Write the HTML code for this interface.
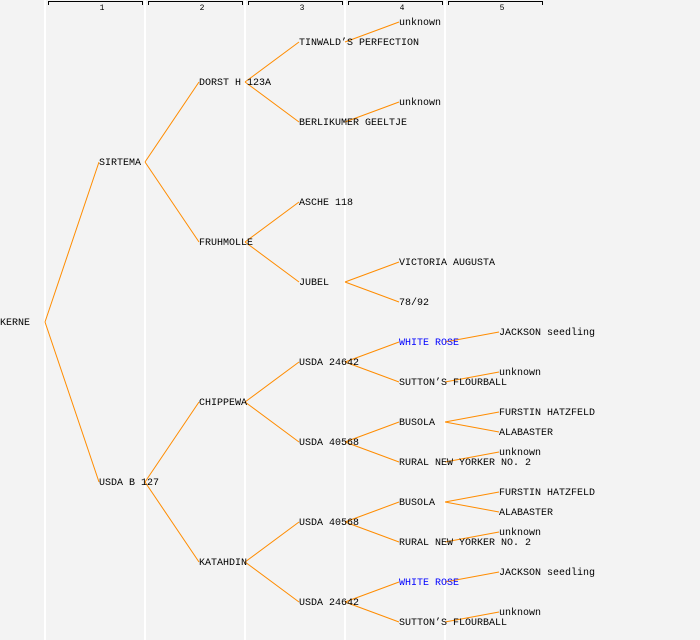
<!DOCTYPE html>
<html><head><meta charset="utf-8"><style>
html,body{margin:0;padding:0;background:#f3f3f3;}
svg{display:block}
text{font-family:"Liberation Mono","DejaVu Sans Mono",monospace;font-size:10px;fill:#000}
</style></head><body>
<svg width="700" height="640" xmlns="http://www.w3.org/2000/svg">
<rect width="700" height="640" fill="#f3f3f3"/>
<g stroke="#fff" stroke-width="2">
<line x1="45" y1="0" x2="45" y2="640"/><line x1="145" y1="0" x2="145" y2="640"/>
<line x1="245" y1="0" x2="245" y2="640"/><line x1="345" y1="0" x2="345" y2="640"/>
<line x1="445" y1="0" x2="445" y2="640"/>
</g>
<g stroke="#000" stroke-width="1" fill="none">
<path d="M48.5 5V1.5H142.5V5"/><path d="M148.5 5V1.5H242.5V5"/><path d="M248.5 5V1.5H342.5V5"/><path d="M348.5 5V1.5H442.5V5"/><path d="M448.5 5V1.5H542.5V5"/>
</g>
<g text-anchor="middle">
<text x="102" y="10" style="font-size:8px">1</text><text x="202" y="10" style="font-size:8px">2</text><text x="302" y="10" style="font-size:8px">3</text><text x="402" y="10" style="font-size:8px">4</text><text x="502" y="10" style="font-size:8px">5</text>
</g>
<g stroke="#ff8c00" stroke-width="1" fill="none">
<path d="M45 322L99 162M45 322L99 482"/>
<path d="M145 162L199 82M145 162L199 242M145 482L199 402M145 482L199 562"/>
<path d="M245 82L299 42M245 82L299 122M245 242L299 202M245 242L299 282M245 402L299 362M245 402L299 442M245 562L299 522M245 562L299 602"/>
<path d="M345 42L399 22M345 122L399 102M345 282L399 262M345 282L399 302M345 362L399 342M345 362L399 382M345 442L399 422M345 442L399 462M345 522L399 502M345 522L399 542M345 602L399 582M345 602L399 622"/>
<path d="M445 342L499 332M445 382L499 372M445 422L499 412M445 422L499 432M445 462L499 452M445 502L499 492M445 502L499 512M445 542L499 532M445 582L499 572M445 622L499 612"/>
</g>
<g transform="translate(0,-1)">
<text x="0" y="326">KERNE</text>
<text x="99" y="166">SIRTEMA</text><text x="99" y="486">USDA B 127</text>
<text x="199" y="86">DORST H 123A</text><text x="199" y="246">FRUHMOLLE</text><text x="199" y="406">CHIPPEWA</text><text x="199" y="566">KATAHDIN</text>
<text x="299" y="46">TINWALD’S PERFECTION</text><text x="299" y="126">BERLIKUMER GEELTJE</text><text x="299" y="206">ASCHE 118</text><text x="299" y="286">JUBEL</text>
<text x="299" y="366">USDA 24642</text><text x="299" y="446">USDA 40568</text><text x="299" y="526">USDA 40568</text><text x="299" y="606">USDA 24642</text>
<text x="399" y="26">unknown</text><text x="399" y="106">unknown</text><text x="399" y="266">VICTORIA AUGUSTA</text><text x="399" y="306">78/92</text>
<text x="399" y="346" style="fill:#0000ff">WHITE ROSE</text><text x="399" y="386">SUTTON’S FLOURBALL</text>
<text x="399" y="426">BUSOLA</text><text x="399" y="466">RURAL NEW YORKER NO. 2</text>
<text x="399" y="506">BUSOLA</text><text x="399" y="546">RURAL NEW YORKER NO. 2</text>
<text x="399" y="586" style="fill:#0000ff">WHITE ROSE</text><text x="399" y="626">SUTTON’S FLOURBALL</text>
<text x="499" y="336">JACKSON seedling</text><text x="499" y="376">unknown</text><text x="499" y="416">FURSTIN HATZFELD</text><text x="499" y="436">ALABASTER</text><text x="499" y="456">unknown</text>
<text x="499" y="496">FURSTIN HATZFELD</text><text x="499" y="516">ALABASTER</text><text x="499" y="536">unknown</text><text x="499" y="576">JACKSON seedling</text><text x="499" y="616">unknown</text>
</g>
</svg>
</body></html>
